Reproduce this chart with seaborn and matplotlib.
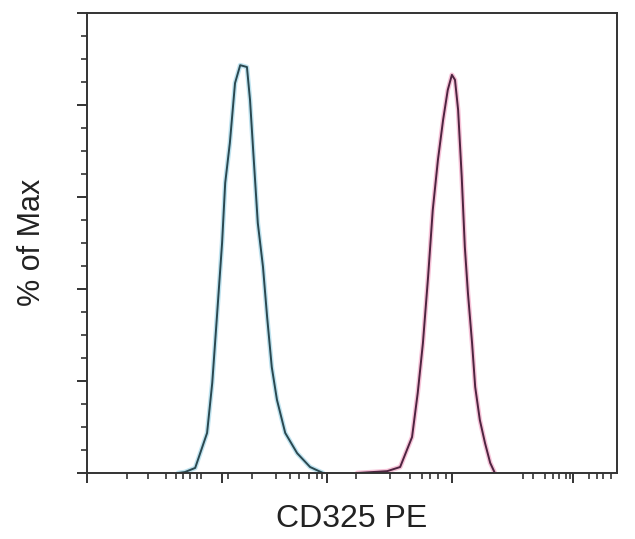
import numpy as np
import pandas as pd
import matplotlib
matplotlib.use("Agg")
import matplotlib.pyplot as plt
import seaborn as sns

# ---- data (x in display channels 0..1024, y in % of max) ----
blue_x = [176, 189, 209, 232, 242, 251, 261, 267, 276, 286, 296, 309, 315, 321,
          330, 340, 348, 357, 367, 383, 406, 431, 456]
blue_y = [0.0, 0.2, 1.1, 8.7, 19.6, 33.9, 50.0, 63.0, 71.7, 84.7, 88.6, 88.2, 81.0, 70.2,
          54.3, 44.8, 33.9, 23.0, 15.9, 8.7, 4.3, 1.3, 0.0]

red_x = [522, 580, 605, 628, 639, 649, 659, 668, 678, 688, 697, 705, 711, 717,
         724, 730, 736, 744, 750, 759, 769, 779, 788]
red_y = [0.0, 0.4, 1.3, 7.8, 17.4, 28.2, 42.6, 57.1, 68.0, 76.7, 83.2, 86.5, 85.4, 78.9,
         64.3, 49.1, 39.1, 28.2, 18.7, 11.5, 6.5, 2.2, 0.0]

x_major = [0, 261, 464, 705, 939]
x_minor = [77, 118, 153, 172, 186, 199, 213, 220, 273, 319, 365, 392, 410, 429, 444, 454,
           520, 585, 624, 647, 663, 678, 694, 842, 862, 885, 900, 912, 926, 933,
           970, 985, 997, 1013]
y_major = [0, 20, 40, 60, 80, 100]
y_minor = [5, 10, 15, 25, 30, 35, 45, 50, 55, 65, 70, 75, 85, 90, 95]

x_label = "CD325 PE"
y_label = "% of Max"

sns.set_theme(style="ticks")
plt.rcParams["font.family"] = ["Liberation Sans", "DejaVu Sans"]

fig = plt.figure(figsize=(6.35, 5.39), dpi=100)
ax = fig.add_axes([87/635, 1 - 473/539, (617 - 87)/635, (473 - 12.7)/539])

df_b = pd.DataFrame({"x": blue_x, "y": blue_y})
df_r = pd.DataFrame({"x": red_x, "y": red_y})

sns.lineplot(data=df_b, x="x", y="y", ax=ax, color="#b0dcec", lw=3.4, alpha=0.8, sort=False)
sns.lineplot(data=df_b, x="x", y="y", ax=ax, color="#2a4850", lw=1.4, sort=False)
sns.lineplot(data=df_r, x="x", y="y", ax=ax, color="#f4b4cf", lw=3.4, alpha=0.8, sort=False)
sns.lineplot(data=df_r, x="x", y="y", ax=ax, color="#4e2440", lw=1.4, sort=False)

ax.set_xlim(0, 1024)
ax.set_ylim(0, 100)

ax.set_xticks(x_major)
ax.set_xticks(x_minor, minor=True)
ax.set_yticks(y_major)
ax.set_yticks(y_minor, minor=True)
ax.set_xticklabels([])
ax.set_yticklabels([])

for s in ax.spines.values():
    s.set_visible(True)
    s.set_linewidth(1.4)
    s.set_color("#333333")

ax.tick_params(axis="both", which="major", direction="out", length=7, width=1.4, color="#333333")
ax.tick_params(axis="both", which="minor", direction="out", length=4.5, width=1.2, color="#333333")

ax.set_xlabel(x_label, fontsize=23, color="#222222", labelpad=12)
ax.set_ylabel(y_label, fontsize=22, color="#222222", labelpad=18)

fig.savefig("out.png", dpi=100)
